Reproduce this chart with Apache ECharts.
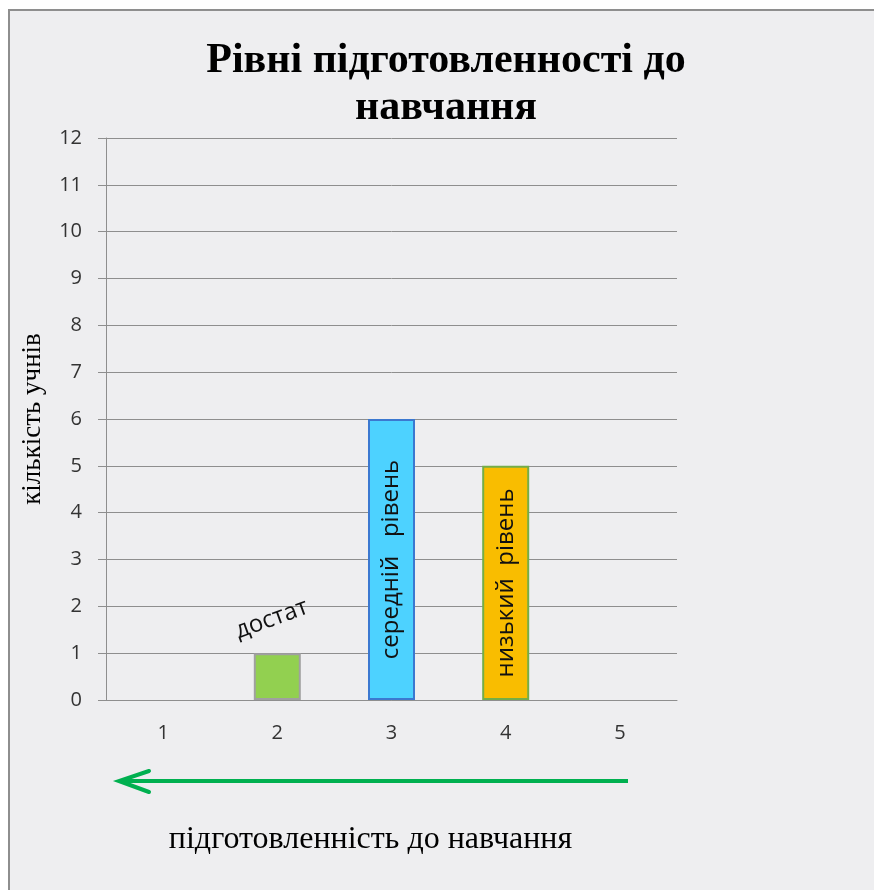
<!DOCTYPE html>
<html lang="uk">
<head>
    <meta charset="UTF-8">
    <title>Рівні підготовленності до навчання</title>
    <script src="https://cdn.jsdelivr.net/npm/echarts@6/dist/echarts.min.js"></script>
    <style>
        body { margin: 0; background: #fff; }
        #panel { position: absolute; left: 8px; top: 9px; width: 866px; height: 881px;
                 background: #eeeef0; border-left: 2px solid #8e8e8e; border-top: 2px solid #8e8e8e; }
        #box { position: absolute; left: 0; top: 0; width: 874px; height: 890px; }
    </style>
</head>
<body>
<div id="panel"></div>
<div id="box"></div>
<script>
    // data
    var categories = ['1', '2', '3', '4', '5'];
    var values = [0, 1, 6, 5, 0];
    var barColors = ['#92d050', '#92d050', '#4dd2ff', '#f9bd00', '#92d050'];
    var borderColors = ['#a0a0a0', '#a0a0a0', '#3b78d0', '#74ad48', '#a0a0a0'];
    var barLabels = ['', 'достат', 'середній   рівень', 'низький  рівень', ''];

    var myChart = echarts.init(document.getElementById('box'));

    var items = values.map(function (v, i) {
        var item = {
            value: v,
            itemStyle: { color: barColors[i], borderColor: borderColors[i], borderWidth: v ? 2 : 0 }
        };
        if (i === 1) {
            item.label = { show: true, position: 'top', distance: 36, rotate: 20,
                align: 'center', verticalAlign: 'middle', offset: [-6, 0],
                formatter: barLabels[i] };
        } else if (barLabels[i]) {
            item.label = { show: true, position: 'inside', rotate: 90, formatter: barLabels[i] };
        }
        return item;
    });

    var option = {
        backgroundColor: 'transparent',
        title: {
            text: 'Рівні підготовленності до\nнавчання',
            left: 441,
            top: 33,
            textAlign: 'center',
            textStyle: { fontFamily: 'Liberation Serif', fontWeight: 'bold', fontSize: 42,
                color: '#000', lineHeight: 47 }
        },
        grid: { left: 106, right: 197, top: 138, bottom: 190 },
        xAxis: {
            type: 'category',
            data: categories,
            axisLine: { lineStyle: { color: '#8e8e8e', width: 1 } },
            axisTick: { show: false },
            axisLabel: { color: '#333', fontSize: 20, fontFamily: 'Open Sans', margin: 23 },
            name: 'підготовленність до навчання',
            nameLocation: 'middle',
            nameGap: 124,
            nameTextStyle: { fontFamily: 'Liberation Serif', fontSize: 32, color: '#000',
                padding: [0, 42, 0, 0] }
        },
        yAxis: {
            type: 'value',
            min: 0,
            max: 12,
            interval: 1,
            axisLine: { show: true, lineStyle: { color: '#8e8e8e', width: 1 } },
            axisTick: { show: true, length: 8, lineStyle: { color: '#8e8e8e' } },
            splitLine: { lineStyle: { color: '#8e8e8e', width: 1 } },
            axisLabel: { color: '#333', fontSize: 20, fontFamily: 'Open Sans', margin: 24 },
            name: 'кількість учнів',
            nameLocation: 'middle',
            nameGap: 60,
            nameTextStyle: { fontFamily: 'Liberation Serif', fontSize: 27, color: '#000' }
        },
        series: [{
            type: 'bar',
            data: items,
            barWidth: 47,
            label: { color: '#111', fontSize: 24, fontFamily: 'Open Sans' }
        }],
        graphic: [
            { type: 'line', shape: { x1: 628, y1: 781, x2: 121, y2: 781 },
              style: { stroke: '#00b050', lineWidth: 4 } },
            { type: 'polyline', shape: { points: [[149, 771], [119, 781], [149, 792]] },
              style: { stroke: '#00b050', lineWidth: 4, fill: null, lineCap: 'round', lineJoin: 'miter' } }
        ]
    };
    myChart.setOption(option);
</script>
</body>
</html>
